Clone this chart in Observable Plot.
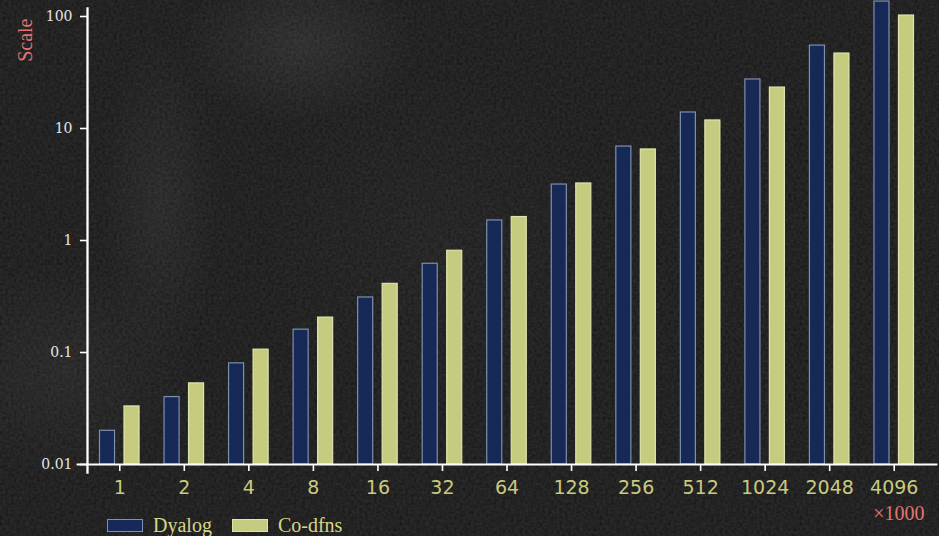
<!DOCTYPE html>
<html>
<head>
<meta charset="utf-8">
<script src="https://cdn.jsdelivr.net/npm/d3@7"></script>
<script src="https://cdn.jsdelivr.net/npm/@observablehq/plot@0.6"></script>
<style>
  html, body { margin: 0; padding: 0; }
  body {
    width: 939px; height: 536px; overflow: hidden; position: relative;
    background-color: #151515;
    background-image:
      radial-gradient(ellipse 120px 80px at 300px 45px, rgba(255,255,255,0.07), rgba(255,255,255,0) 100%),
      radial-gradient(ellipse 60px 170px at 160px 200px, rgba(255,255,255,0.05), rgba(255,255,255,0) 100%),
      radial-gradient(ellipse 130px 110px at 60px 370px, rgba(255,255,255,0.045), rgba(255,255,255,0) 100%),
      radial-gradient(ellipse 180px 180px at 430px 240px, rgba(255,255,255,0.02), rgba(255,255,255,0) 100%),
      url("data:image/svg+xml;utf8,<svg xmlns='http://www.w3.org/2000/svg' width='200' height='200'><filter id='n'><feTurbulence type='fractalNoise' baseFrequency='0.35' numOctaves='3' stitchTiles='stitch'/><feColorMatrix values='0 0 0 0 1  0 0 0 0 1  0 0 0 0 1  0 0 0 0.12 0'/></filter><rect width='200' height='200' filter='url(%23n)'/></svg>");
  }
  #chart { position: absolute; left: 0; top: 0; }
  #chart svg { overflow: visible; }
  [aria-label="x-axis tick"] { stroke: #ffffff; stroke-width: 1.6; }
  [aria-label="y-axis tick"] { stroke: #ffffff; stroke-width: 1.6; }
  #legend {
    position: absolute; left: 107px; top: 514px;
    display: flex; align-items: center;
    font-family: "Liberation Serif", serif; font-size: 20px; color: #d6d68a;
  }
  #legend .item { display: flex; align-items: center; margin-right: 20px; }
  #legend .sw { width: 34px; height: 11px; margin-right: 10px; border: 1px solid; }
</style>
</head>
<body>
<div id="chart"></div>
<div id="legend"></div>
<script>
// Data
const sizes = ["1","2","4","8","16","32","64","128","256","512","1024","2048","4096"];
const dyalog = [0.020, 0.040, 0.080, 0.160, 0.31, 0.62, 1.51, 3.16, 6.9, 13.9, 27.4, 55, 136];
const codfns = [0.033, 0.053, 0.106, 0.205, 0.41, 0.81, 1.62, 3.23, 6.5, 11.8, 23.2, 46.7, 102];
const seriesNames = ["Dyalog", "Co-dfns"];
const yTicks = [0.01, 0.1, 1, 10, 100];
const yLabel = "Scale";
const xLabel = "×1000";

const fills = {"Dyalog": "#16295a", "Co-dfns": "#c5cc80"};
const strokes = {"Dyalog": "#7f8fae", "Co-dfns": "#dfe3ae"};

const rowsD = sizes.map((s, i) => ({size: s, value: dyalog[i]}));
const rowsC = sizes.map((s, i) => ({size: s, value: codfns[i]}));

const yMin = 0.01;
const yMax = 100 * Math.pow(10, 8 / 112);

const chart = Plot.plot({
  width: 939,
  height: 536,
  marginLeft: 87,
  marginRight: 13,
  marginTop: 8,
  marginBottom: 72,
  style: {background: "transparent", color: "#ffffff", overflow: "visible"},
  x: {type: "band", domain: sizes, padding: 0, round: false},
  y: {type: "log", domain: [yMin, yMax]},
  marks: [
    Plot.barY(rowsD, {x: "size", y1: yMin, y2: "value", fill: fills["Dyalog"], fillOpacity: 0.95,
      stroke: strokes["Dyalog"], strokeWidth: 1.2, insetLeft: 12.5, insetRight: 37}),
    Plot.barY(rowsC, {x: "size", y1: yMin, y2: "value", fill: fills["Co-dfns"],
      stroke: strokes["Co-dfns"], strokeWidth: 1.2, insetLeft: 37, insetRight: 12.5}),
    Plot.frame({anchor: "left", stroke: "#ffffff", strokeWidth: 2.3, insetBottom: -8}),
    Plot.frame({anchor: "bottom", stroke: "#ffffff", strokeWidth: 1.8, insetLeft: -10, insetRight: -10}),
    Plot.axisY({ticks: yTicks, tickFormat: d => String(d), tickSize: 7, tickPadding: 8,
      color: "#e6e6e6", fontFamily: "DejaVu Serif", fontSize: 14, label: null}),
    Plot.axisX({tickSize: 7, tickPadding: 9, color: "#c9ca7f", fontFamily: "DejaVu Sans", fontSize: 19,
      label: null}),
    Plot.text([xLabel], {frameAnchor: "bottom-right", text: d => d, textAnchor: "end", lineAnchor: "middle",
      dx: -2, dy: 49, fill: "#e87373", fontFamily: "Liberation Serif", fontSize: 20}),
    Plot.text([yLabel], {frameAnchor: "top-left", text: d => d, rotate: -90, textAnchor: "end",
      lineAnchor: "middle", dx: -62, dy: 10, fill: "#e07474", fontFamily: "Liberation Serif", fontSize: 20})
  ]
});
document.getElementById("chart").appendChild(chart);

// Legend
const legend = document.getElementById("legend");
seriesNames.forEach(name => {
  const item = document.createElement("div");
  item.className = "item";
  const sw = document.createElement("div");
  sw.className = "sw";
  sw.style.background = fills[name];
  sw.style.borderColor = strokes[name];
  const lab = document.createElement("span");
  lab.textContent = name;
  item.appendChild(sw);
  item.appendChild(lab);
  legend.appendChild(item);
});
</script>
</body>
</html>
